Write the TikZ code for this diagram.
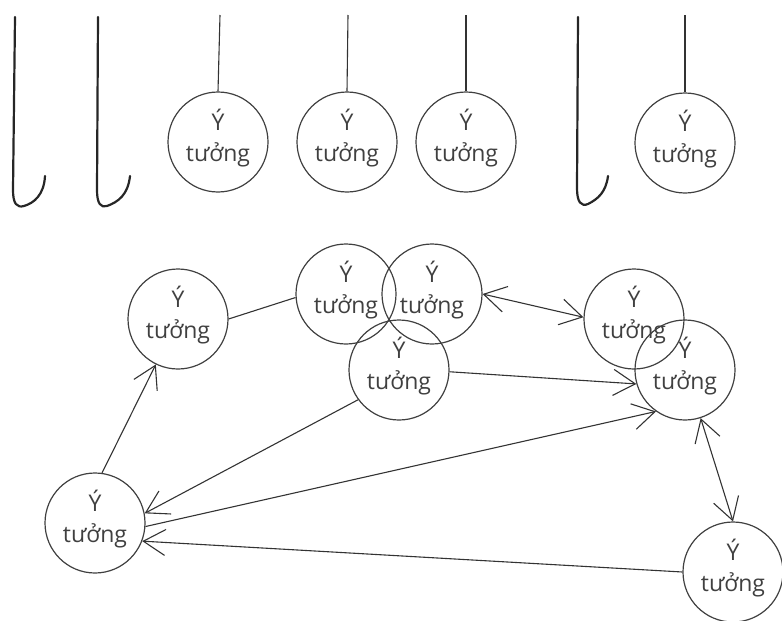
\documentclass[tikz,border=0pt]{standalone}
\usepackage{fontspec}
\setmainfont{Open Sans}
\usetikzlibrary{arrows.meta}
\newcommand{\ytuong}{Ý\\tưởng\rule[-14pt]{0pt}{1pt}}
\begin{document}
\begin{tikzpicture}[x=1pt,y=-1pt,
  idea/.style={circle, draw=black!75, line width=1.2pt, minimum size=100pt, inner sep=0pt,
    align=center, font=\fontsize{23}{31}\selectfont, text=black!75},
  hookline/.style={line width=2.2pt, line cap=round, line join=round, draw=black!85},
  conn/.style={line width=1.1pt, draw=black!80},
  tipend/.style={-{Straight Barb[length=22pt,width=26pt,line width=1.1pt]}},
  tipboth/.style={{Straight Barb[length=22pt,width=26pt,line width=1.1pt]}-{Straight Barb[length=22pt,width=26pt,line width=1.1pt]}}
]
\useasboundingbox (0,0) rectangle (782,621);
\clip (0,0) rectangle (782,621);

% hooks
\draw[hookline] (15,17) -- (13,190) .. controls (13,204) and (17,208) .. (24,206) .. controls (34,203) and (44,195) .. (45,176);
\draw[hookline] (98,17) -- (97,190) .. controls (97,204) and (101,208) .. (107,206) .. controls (118,202) and (128,195) .. (130,176);
\draw[hookline] (578,17) -- (577,188) .. controls (577,202) and (581,207) .. (588,204) .. controls (598,199) and (606,192) .. (608,176);

% top hanging ideas
\node[idea] (t1) at (218,142) {\ytuong};
\node[idea] (t2) at (347,142) {\ytuong};
\node[idea] (t3) at (466,142) {\ytuong};
\node[idea] (t4) at (685,143) {\ytuong};
\coordinate (s1) at (220,15);
\coordinate (s2) at (348,15);
\coordinate (s3) at (466,15);
\coordinate (s4) at (685,15);
\draw[conn] (s1) -- (t1.north);
\draw[conn] (s2) -- (t2.north);
\draw[conn] (s3) -- (t3.north);
\draw[conn] (s4) -- (t4.north);

% graph
\node[idea] (A) at (178,319) {\ytuong};
\node[idea] (B) at (346,294) {\ytuong};
\node[idea] (C) at (432,294) {\ytuong};
\node[idea] (D) at (399,370) {\ytuong};
\node[idea] (E) at (634,319) {\ytuong};
\node[idea] (F) at (685,370) {\ytuong};
\node[idea] (G) at (95,523) {\ytuong};
\node[idea] (H) at (733,572) {\ytuong};

\draw[conn] (A.0) -- (B.184);
\draw[conn,tipend] (G.82) -- (A.244);
\draw[conn,tipend] (D.216) -- (G.11);
\draw[conn,tipend] (G.356) -- (F.235);
\draw[conn,tipend] (D.358) -- (F.196);
\draw[conn,tipboth] (C.0) -- (E.178);
\draw[conn,tipboth] (F.288) -- (H.90);
\draw[conn,tipend] (H.180) -- (G.339);
\end{tikzpicture}
\end{document}
